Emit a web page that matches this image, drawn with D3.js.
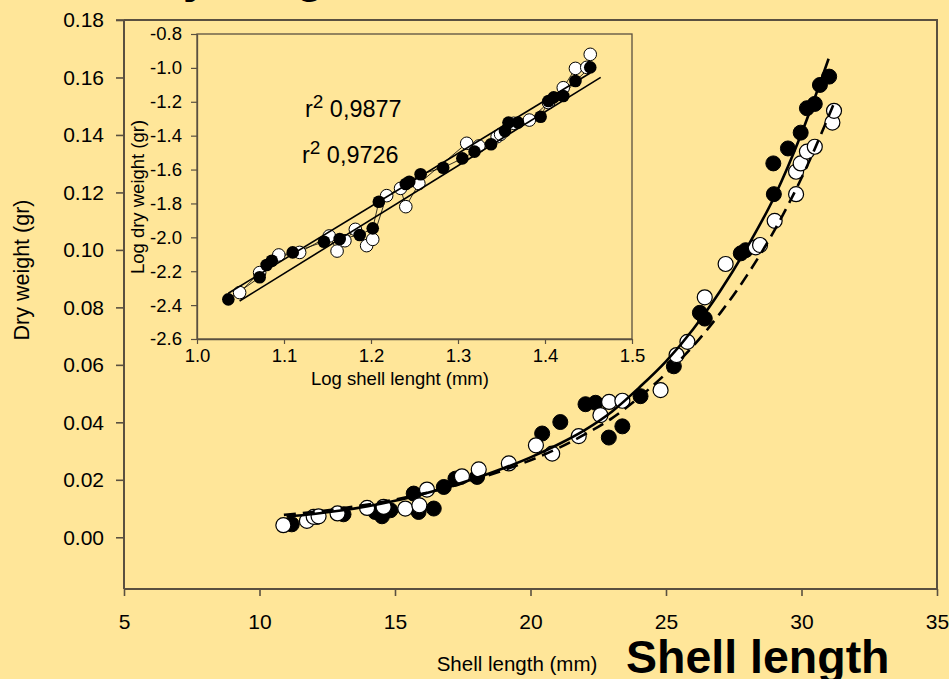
<!DOCTYPE html>
<html>
<head>
<meta charset="utf-8">
<script src="https://cdn.jsdelivr.net/npm/d3@7"></script>
<style>
  html, body { margin: 0; padding: 0; background: #ffe699; }
  svg { display: block; font-family: Arial, "Liberation Sans", Helvetica, sans-serif; }
</style>
</head>
<body>
<svg id="chart" width="949" height="679"></svg>
<script>
// ---- Main panel: shell length (mm) vs dry weight (gr) ----
const xTicksMain = [5, 10, 15, 20, 25, 30, 35];
const yTicksMain = [0, 0.02, 0.04, 0.06, 0.08, 0.10, 0.12, 0.14, 0.16, 0.18];

// filled circles: [length, dry weight]
const filledMain = [
  [11.19,0.0045],[12.12,0.0071],[13.10,0.0080],[14.27,0.0088],[14.52,0.0073],[14.83,0.0094],
  [15.69,0.0152],[15.87,0.0088],[16.43,0.0100],[16.80,0.0175],[17.23,0.0204],[18.03,0.0210],
  [20.43,0.0361],[21.10,0.0401],[22.03,0.0463],[22.40,0.0468],[22.89,0.0347],[23.39,0.0386],
  [24.06,0.0491],[25.29,0.0595],[26.25,0.0781],[26.43,0.0761],[27.76,0.0988],[27.94,0.0999],
  [28.96,0.1301],[28.98,0.1194],[29.50,0.1353],[29.97,0.1408],[30.20,0.1493],[30.49,0.1508],
  [30.68,0.1574],[31.02,0.1603]
];
// open circles: [length, dry weight]
const openMain = [
  [10.88,0.0042],[11.75,0.0057],[12.00,0.0071],[12.18,0.0073],[12.88,0.0083],[13.97,0.0102],
  [14.58,0.0106],[15.38,0.0100],[15.90,0.0111],[16.18,0.0166],[17.47,0.0212],[18.09,0.0236],
  [19.20,0.0257],[20.20,0.0320],[20.80,0.0291],[21.78,0.0352],[22.58,0.0425],[22.90,0.0471],
  [23.39,0.0475],[24.80,0.0512],[25.39,0.0634],[25.79,0.0680],[26.43,0.0835],[27.20,0.0951],
  [28.31,0.1009],[28.47,0.1017],[29.01,0.1101],[29.80,0.1194],[29.80,0.1272],[29.97,0.1301],
  [30.20,0.1342],[30.49,0.1359],[31.14,0.1443],[31.20,0.1484]
];
// fitted curves (solid = filled series, dashed = open series)
const curveFilled = [
  [11,0.0072],[12,0.0081],[13,0.0093],[14,0.0108],[15,0.0127],[16,0.0150],[17,0.0176],
  [18,0.0206],[19,0.0240],[20,0.0278],[21,0.0322],[22,0.0373],[23,0.0437],[24,0.0520],
  [25,0.0612],[26,0.0724],[27,0.0857],[28,0.1010],[29,0.1185],[30,0.1405],[31,0.1665]
];
const curveOpen = [
  [10.9,0.0078],[12,0.0088],[13,0.0100],[14,0.0114],[15,0.0131],[16,0.0151],[17,0.0175],
  [18,0.0202],[19,0.0233],[20,0.0268],[21,0.0309],[22,0.0358],[23,0.0414],[24,0.0486],
  [25,0.0570],[26,0.0665],[27,0.0780],[28,0.0913],[29,0.1068],[30,0.1250],[31.2,0.1510]
];

// ---- Inset: log-log ----
const xTicksInset = [1.0, 1.1, 1.2, 1.3, 1.4, 1.5];
const yTicksInset = [-2.6, -2.4, -2.2, -2.0, -1.8, -1.6, -1.4, -1.2, -1.0, -0.8];
const filledLog = [
  [1.036,-2.366],[1.072,-2.236],[1.080,-2.163],[1.086,-2.138],[1.110,-2.089],[1.146,-2.026],
  [1.164,-2.010],[1.187,-1.986],[1.202,-1.947],[1.209,-1.790],[1.240,-1.685],[1.244,-1.672],
  [1.257,-1.628],[1.283,-1.589],[1.305,-1.534],[1.319,-1.494],[1.338,-1.451],[1.354,-1.373],
  [1.358,-1.323],[1.369,-1.323],[1.395,-1.288],[1.404,-1.195],[1.410,-1.174],[1.421,-1.166],
  [1.435,-1.077],[1.452,-0.997]
];
const openLog = [
  [1.049,-2.326],[1.072,-2.208],[1.094,-2.104],[1.118,-2.089],[1.152,-1.992],[1.161,-2.081],
  [1.170,-2.020],[1.182,-1.953],[1.195,-2.049],[1.202,-2.012],[1.218,-1.754],[1.234,-1.711],
  [1.240,-1.819],[1.255,-1.683],[1.310,-1.445],[1.324,-1.461],[1.345,-1.406],[1.349,-1.392],
  [1.364,-1.327],[1.382,-1.308],[1.404,-1.205],[1.421,-1.117],[1.435,-1.003],[1.448,-0.997],
  [1.452,-0.920]
];
const fitFilledLog = [[1.036,-2.330],[1.452,-1.030]];
const fitOpenLog = [[1.049,-2.376],[1.464,-1.056]];
const r2Labels = ["0,9877", "0,9726"];

const BG = "#ffe699";
const AXIS = "#5a5040";

const svg = d3.select("#chart");
svg.append("rect").attr("width", 949).attr("height", 679).attr("fill", BG);

// ---------- main panel ----------
const x = d3.scaleLinear().domain([5, 35]).range([124, 937]);
const y = d3.scaleLinear().domain([-0.018, 0.18]).range([589, 20]);

const gx = svg.append("g").attr("transform", "translate(0,589)")
  .call(d3.axisBottom(x).tickValues(xTicksMain).tickSize(7).tickSizeOuter(0).tickPadding(18)
    .tickFormat(d3.format("d")));
const gy = svg.append("g").attr("transform", "translate(124,0)")
  .call(d3.axisLeft(y).tickValues(yTicksMain).tickSize(8).tickSizeOuter(0).tickPadding(12)
    .tickFormat(d3.format(".2f")));
[gx, gy].forEach(g => {
  g.selectAll("path.domain").attr("stroke", AXIS).attr("stroke-width", 2);
  g.selectAll(".tick line").attr("stroke", AXIS).attr("stroke-width", 1.6);
  g.selectAll(".tick text").attr("fill", "#000").style("font-size", "21px");
});
gy.select("path.domain").attr("d", `M0,${y.range()[0]}V${y.range()[1]}`);
gx.select("path.domain").attr("d", `M${x.range()[0]},0H${x.range()[1]}`);
// frame top and right
svg.append("path")
  .attr("d", `M${x.range()[0]},${y.range()[1]}H${x.range()[1]}V${y.range()[0]}`)
  .attr("fill", "none").attr("stroke", AXIS).attr("stroke-width", 2);
// 0.18 tick reaches the frame top
svg.append("line").attr("x1", 116).attr("x2", 124).attr("y1", y(0.18)).attr("y2", y(0.18))
  .attr("stroke", AXIS).attr("stroke-width", 1.6);

// markers
svg.append("g").selectAll("circle").data(filledMain).join("circle")
  .attr("cx", d => x(d[0])).attr("cy", d => y(d[1])).attr("r", 7.5)
  .attr("fill", "#000").attr("stroke", "#000").attr("stroke-width", 1);
svg.append("g").selectAll("circle").data(openMain).join("circle")
  .attr("cx", d => x(d[0])).attr("cy", d => y(d[1])).attr("r", 7.5)
  .attr("fill", "#fff").attr("stroke", "#000").attr("stroke-width", 1.2);

const lineMain = d3.line().x(d => x(d[0])).y(d => y(d[1])).curve(d3.curveMonotoneX);
svg.append("path").datum(curveFilled).attr("d", lineMain)
  .attr("fill", "none").attr("stroke", "#000").attr("stroke-width", 2.6);
svg.append("path").datum(curveOpen).attr("d", lineMain)
  .attr("fill", "none").attr("stroke", "#000").attr("stroke-width", 2.6)
  .attr("stroke-dasharray", "12,7");

// axis titles
svg.append("text").attr("x", 517).attr("y", 671).attr("text-anchor", "middle")
  .style("font-size", "20.5px").text("Shell length (mm)");
svg.append("text").attr("transform", "translate(29,270) rotate(-90)").attr("text-anchor", "middle")
  .style("font-size", "21.5px").text("Dry weight (gr)");

// large bold captions
svg.append("text").attr("x", 626).attr("y", 673)
  .style("font-size", "46.5px").style("font-weight", "bold").text("Shell length");
svg.append("text").attr("x", 132).attr("y", -8)
  .style("font-size", "46px").style("font-weight", "bold").text("Dry weight");

// ---------- inset ----------
const xi = d3.scaleLinear().domain([1.0, 1.5]).range([197, 632]);
const yi = d3.scaleLinear().domain([-2.6, -0.8]).range([339, 34]);

const inset = svg.append("g");
inset.append("rect").attr("x", 197).attr("y", 34).attr("width", 435).attr("height", 305)
  .attr("fill", BG).attr("stroke", AXIS).attr("stroke-width", 1.3);

const gxi = inset.append("g").attr("transform", "translate(0,339)")
  .call(d3.axisBottom(xi).tickValues(xTicksInset).tickSize(5).tickSizeOuter(0).tickPadding(5)
    .tickFormat(d => d.toFixed(1)));
const gyi = inset.append("g").attr("transform", "translate(197,0)")
  .call(d3.axisLeft(yi).tickValues(yTicksInset).tickSize(6).tickSizeOuter(0).tickPadding(9)
    .tickFormat(d => d.toFixed(1)));
[gxi, gyi].forEach(g => {
  g.selectAll("path.domain").attr("stroke", AXIS).attr("stroke-width", 1.3);
  g.selectAll(".tick line").attr("stroke", AXIS).attr("stroke-width", 1.2);
  g.selectAll(".tick text").attr("fill", "#000").style("font-size", "18.5px");
});

const lineInset = d3.line().x(d => xi(d[0])).y(d => yi(d[1]));
inset.append("path").datum(openLog).attr("d", lineInset)
  .attr("fill", "none").attr("stroke", "#000").attr("stroke-width", 0.8);
inset.append("path").datum(filledLog).attr("d", lineInset)
  .attr("fill", "none").attr("stroke", "#000").attr("stroke-width", 0.8);

inset.append("g").selectAll("circle").data(openLog).join("circle")
  .attr("cx", d => xi(d[0])).attr("cy", d => yi(d[1])).attr("r", 6.3)
  .attr("fill", "#fff").attr("stroke", "#000").attr("stroke-width", 1);
inset.append("g").selectAll("circle").data(filledLog).join("circle")
  .attr("cx", d => xi(d[0])).attr("cy", d => yi(d[1])).attr("r", 6.3)
  .attr("fill", "#000");

[fitFilledLog, fitOpenLog].forEach(f => {
  inset.append("path").datum(f).attr("d", lineInset)
    .attr("fill", "none").attr("stroke", "#000").attr("stroke-width", 1.6);
});

inset.append("text").attr("x", 400).attr("y", 385).attr("text-anchor", "middle")
  .style("font-size", "18.5px").text("Log shell lenght (mm)");
inset.append("text").attr("transform", "translate(144,197) rotate(-90)").attr("text-anchor", "middle")
  .style("font-size", "18.5px").text("Log dry weight (gr)");

// r² annotations
const r2Pos = [[305, 117], [302, 163]];
r2Labels.forEach((lab, i) => {
  const t = inset.append("text").attr("x", r2Pos[i][0]).attr("y", r2Pos[i][1])
    .style("font-size", "23.4px");
  t.append("tspan").text("r");
  t.append("tspan").attr("dy", -9).style("font-size", "19px").text("2");
  t.append("tspan").attr("dy", 9).text(" " + lab);
});
</script>
</body>
</html>
